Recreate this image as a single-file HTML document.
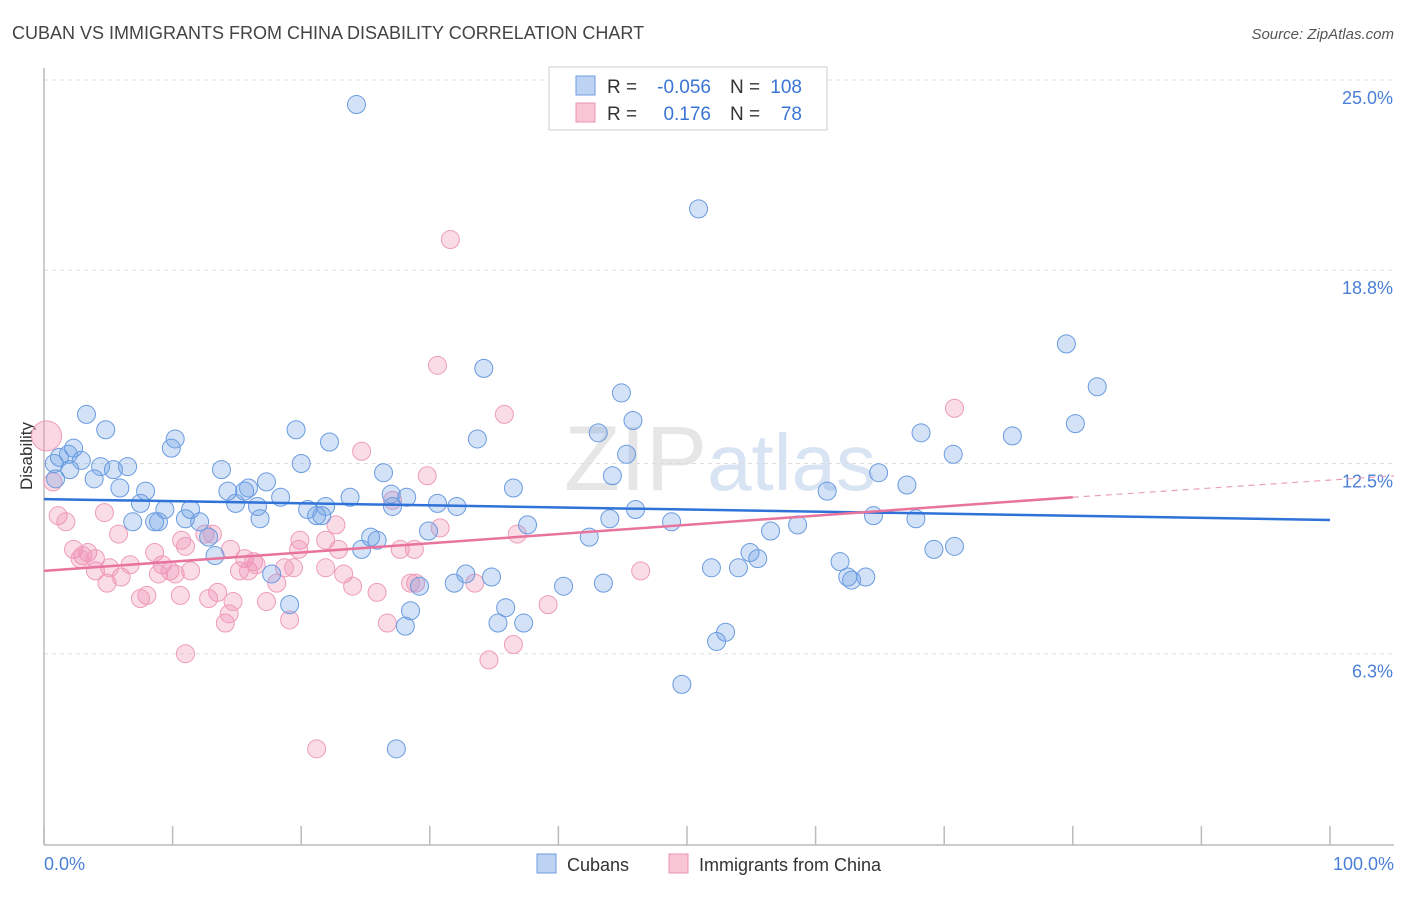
<!DOCTYPE html>
<html><head><meta charset="utf-8">
<style>
body{margin:0;background:#fff;font-family:"Liberation Sans",sans-serif;}
svg text{font-family:"Liberation Sans",sans-serif;}
</style></head>
<body>
<svg id="chart" width="1406" height="892" viewBox="0 0 1406 892">
<text x="12" y="39" font-size="18" fill="#444">CUBAN VS IMMIGRANTS FROM CHINA DISABILITY CORRELATION CHART</text>
<text x="1394" y="39" font-size="15" fill="#555" text-anchor="end" font-style="italic">Source: ZipAtlas.com</text>
<text x="720" y="490" font-size="92" fill="#e6e6e6" text-anchor="middle" font-family="Liberation Serif">ZIP<tspan fill="#d8e3f3" font-family="Liberation Sans" font-size="80">atlas</tspan></text>
<g id="grid"></g>
<line x1="44" y1="68" x2="44" y2="845" stroke="#bbb" stroke-width="1.5"/>
<line x1="44" y1="845" x2="1394" y2="845" stroke="#bbb" stroke-width="1.5"/>
<g id="xticks"></g>
<text x="32" y="456" font-size="17" fill="#333" text-anchor="middle" transform="rotate(-90 32 456)">Disability</text>
<text x="44" y="870" font-size="18" fill="#4a7fd6">0.0%</text>
<text x="1394" y="870" font-size="18" fill="#4a7fd6" text-anchor="end">100.0%</text>
<g id="points"></g>
<g id="trends"></g>
<g>
<rect x="549" y="67" width="278" height="63" fill="#fff" stroke="#ccc"/>
<rect x="576" y="76" width="19" height="19" fill="#bcd3f2" stroke="#6f9be0"/>
<rect x="576" y="103" width="19" height="19" fill="#f9c6d6" stroke="#ec93b0"/>
<text x="607" y="93" font-size="19" fill="#333">R =</text>
<text x="711" y="93" font-size="19" fill="#3a75d6" text-anchor="end">-0.056</text>
<text x="730" y="93" font-size="19" fill="#333">N =</text>
<text x="802" y="93" font-size="19" fill="#3a75d6" text-anchor="end">108</text>
<text x="607" y="120" font-size="19" fill="#333">R =</text>
<text x="711" y="120" font-size="19" fill="#3a75d6" text-anchor="end">0.176</text>
<text x="730" y="120" font-size="19" fill="#333">N =</text>
<text x="802" y="120" font-size="19" fill="#3a75d6" text-anchor="end">78</text>
</g>
<g>
<rect x="537" y="854" width="19" height="19" fill="#bcd3f2" stroke="#6f9be0"/>
<text x="567" y="871" font-size="18" fill="#333">Cubans</text>
<rect x="669" y="854" width="19" height="19" fill="#f9c6d6" stroke="#ec93b0"/>
<text x="699" y="871" font-size="18" fill="#333">Immigrants from China</text>
</g>
</svg>
<script>
const yTicks=[25.0,18.8,12.5,6.3];
const yTickLabels=["25.0%","18.8%","12.5%","6.3%"];
const xTickVals=[0,10,20,30,40,50,60,70,80,90,100];
const cubanX=[24.3,50.9,79.5,81.9,34.2,44.9,45.8,80.2,68.2,75.3,43.1,33.7,3.3,4.8,10.2,9.9,22.2,19.6,2.3,1.2,1.9,2.9,0.8,0.9,4.4,5.4,6.5,3.9,5.9,7.9,7.5,9.4,8.9,8.6,6.9,11.0,12.1,11.4,12.8,13.3,13.8,14.3,14.9,15.6,15.9,16.6,17.3,16.8,18.4,20.0,20.5,21.2,21.9,21.6,23.8,26.4,27.0,28.2,27.1,24.7,25.4,25.9,29.9,30.6,32.1,36.5,37.6,42.4,44.0,46.0,48.8,44.2,45.3,56.5,58.6,60.9,64.9,67.1,67.8,64.5,70.7,70.8,69.2,54.9,55.5,54.0,51.9,61.9,62.5,63.9,62.8,40.4,43.5,32.8,34.8,31.9,29.2,28.5,28.1,35.9,35.3,37.3,53.0,52.3,49.6,27.4,19.1,17.7,2.0];
const cubanY=[24.2,20.8,16.4,15.0,15.6,14.8,13.9,13.8,13.5,13.4,13.5,13.3,14.1,13.6,13.3,13.0,13.2,13.6,13.0,12.7,12.8,12.6,12.5,12.0,12.4,12.3,12.4,12.0,11.7,11.6,11.2,11.0,10.6,10.6,10.6,10.7,10.6,11.0,10.1,9.5,12.3,11.6,11.2,11.6,11.7,11.1,11.9,10.7,11.4,12.5,11.0,10.8,11.1,10.8,11.4,12.2,11.5,11.4,11.1,9.7,10.1,10.0,10.3,11.2,11.1,11.7,10.5,10.1,10.7,11.0,10.6,12.1,12.8,10.3,10.5,11.6,12.2,11.8,10.7,10.8,12.8,9.8,9.7,9.6,9.4,9.1,9.1,9.3,8.8,8.8,8.7,8.5,8.6,8.9,8.8,8.6,8.5,7.7,7.2,7.8,7.3,7.3,7.0,6.7,5.3,3.2,7.9,8.9,12.3];
const chinaX=[0.7,1.1,1.7,2.3,3.0,3.4,4.0,4.9,4.7,5.8,6.0,6.7,7.5,8.0,8.6,9.2,8.9,9.8,10.2,11.0,10.7,11.4,11.0,12.5,13.1,12.8,13.5,14.1,14.4,14.7,15.2,15.6,15.9,16.5,17.3,18.1,18.7,19.4,19.1,19.9,19.8,21.9,21.9,22.7,23.3,24.0,24.7,25.9,26.7,27.1,27.7,28.5,28.8,28.9,29.8,30.8,31.6,30.6,35.8,33.5,34.6,36.5,36.8,39.2,46.4,70.8,21.2,14.5,16.3,5.1,4.0,2.8,10.6,22.9];
const chinaY=[11.9,10.8,10.6,9.7,9.5,9.6,9.0,8.6,10.9,10.2,8.8,9.2,8.1,8.2,9.6,9.2,8.9,9.0,8.9,6.3,10.0,9.0,9.8,10.2,10.2,8.1,8.3,7.3,7.6,8.0,9.0,9.4,9.0,9.2,8.0,8.6,9.1,9.1,7.4,10.0,9.7,10.0,9.1,10.5,8.9,8.5,12.9,8.3,7.3,11.3,9.7,8.6,9.7,8.6,12.1,10.4,19.8,15.7,14.1,8.6,6.1,6.6,10.2,7.9,9.0,14.3,3.2,9.7,9.3,9.1,9.4,9.4,8.2,9.7];
const cubanTrend=[11.34,10.66];
const chinaTrend=[9.0,11.4,12.1];
const NS='http://www.w3.org/2000/svg';
const sx=v=>44+v*12.86;
const sy=v=>847-v*30.68;
function mk(tag,attrs,parent){const e=document.createElementNS(NS,tag);for(const k in attrs)e.setAttribute(k,attrs[k]);parent.appendChild(e);return e;}
const grid=document.getElementById('grid');
yTicks.forEach((t,i)=>{
  const l=mk('line',{x1:44,x2:1394,y1:sy(t),y2:sy(t),stroke:'#ddd','stroke-dasharray':'4,4'},grid);
  
  
  const tx=mk('text',{x:1393,y:sy(t)+24,'font-size':18,fill:'#4a7fd6','text-anchor':'end'},grid);
  tx.textContent=yTickLabels[i];
  
  
});
const xt=document.getElementById('xticks');
xTickVals.forEach(v=>{
  const l=mk('line',{x1:sx(v),x2:sx(v),y1:826,y2:845,stroke:'#bbb','stroke-width':1.5},xt);
  
  
});
const pts=document.getElementById('points');
chinaX.forEach((x,i)=>{
  const c=mk('circle',{cx:sx(x),cy:sy(chinaY[i]),r:9,fill:'rgba(240,140,175,0.3)',stroke:'#ee9cb9','stroke-width':1},pts);
  
  
});
const big=mk('circle',{cx:sx(0.2),cy:sy(13.4),r:15,fill:'rgba(240,140,175,0.35)',stroke:'#ee9cb9','stroke-width':1},pts);


cubanX.forEach((x,i)=>{
  const c=mk('circle',{cx:sx(x),cy:sy(cubanY[i]),r:9,fill:'rgba(110,160,230,0.3)',stroke:'#6a9be0','stroke-width':1},pts);
  
  
});
const tr=document.getElementById('trends');
const bl=mk('line',{x1:sx(0),y1:sy(cubanTrend[0]),x2:sx(100),y2:sy(cubanTrend[1]),stroke:'#2f72d8','stroke-width':2.5},tr);


const pl=mk('line',{x1:sx(0),y1:sy(chinaTrend[0]),x2:sx(80),y2:sy(chinaTrend[1]),stroke:'#e8739c','stroke-width':2.5},tr);


const pd=mk('line',{x1:sx(80),y1:sy(chinaTrend[1]),x2:1394,y2:sy(chinaTrend[2]),stroke:'#eba0ba','stroke-width':1.2,'stroke-dasharray':'6,5'},tr);


</script>
</body></html>
